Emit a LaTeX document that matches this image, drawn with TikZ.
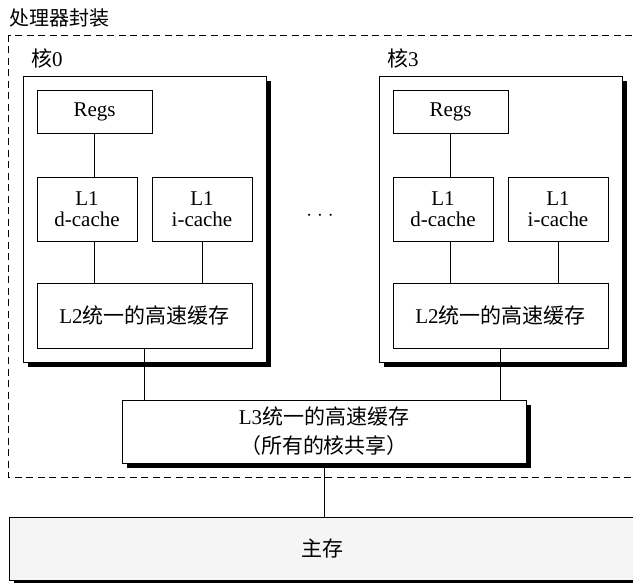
\documentclass[tikz,border=0pt]{standalone}
\usepackage{fontspec}
\setmainfont{Liberation Serif}
\newfontfamily\cjk{Noto Sans CJK SC}
\newcommand\hzbig{\fontsize{21}{29}\selectfont\cjk}
\usetikzlibrary{shadows}

\begin{document}
\begin{tikzpicture}[
			x=1pt, y=-1pt,
			font=\fontsize{21}{21}\selectfont,
			box/.style={draw, line width=0.9pt, fill=white, inner sep=0pt, align=center},
			shadowbox/.style={box, drop shadow={shadow xshift=5pt, shadow yshift=-5pt, fill=black, opacity=1}},
			link/.style={line width=0.9pt},
			pkg/.style={line width=0.9pt, dash pattern=on 7pt off 4.5pt}
		]

		\useasboundingbox (0,0) rectangle (633,583);
		\clip (0,0) rectangle (633,583);

		% processor package
		\node[anchor=west, inner sep=0pt, font=\fontsize{20}{22}\selectfont\cjk] (pkgtitle) at (9,18) {处理器封装};
		\draw[pkg] (8,35) rectangle (660,477);

		% cores 0 and 3
		\foreach \k/\dx in {0/0,3/356} {
				\node[shadowbox, minimum width=243pt, minimum height=286pt] (core\k) at ({144.5+\dx},219) {};
				\node[anchor=west, inner sep=0pt] (lbl\k) at ({31+\dx},58) {{\cjk 核}\k};
				\node[box, minimum width=115pt, minimum height=43pt] (regs\k) at ({94.5+\dx},111.5) {Regs};
				\node[box, minimum width=100pt, minimum height=64pt] (dc\k) at ({87+\dx},209) {L1\\d-cache};
				\node[box, minimum width=100pt, minimum height=64pt] (ic\k) at ({202+\dx},209) {L1\\i-cache};
				\node[box, minimum width=215pt, minimum height=65pt] (ltwo\k) at ({144.5+\dx},315.5) {L2{\hzbig 统一的高速缓存}};
				\draw[link] (regs\k) -- (regs\k.south |- dc\k.north);
				\draw[link] (regs\k.south |- dc\k.south) -- (regs\k.south |- ltwo\k.north);
				\draw[link] (ic\k) -- (ic\k |- ltwo\k.north);
			}

		\node (dots) at (320,216) {$\cdot$\hspace{5pt}$\cdot$\hspace{5pt}$\cdot$};

		% shared L3
		\node[shadowbox, minimum width=404pt, minimum height=63pt] (lthree) at (324,431.5)
		{L3{\hzbig 统一的高速缓存}\\[8pt]{\hzbig （所有的核共享）}};
		\foreach \k in {0,3} {
				\draw[link] (ltwo\k) -- (ltwo\k |- lthree.north);
			}

		% main memory
		\node[shadowbox, fill=black!4, minimum width=626pt, minimum height=63pt] (mem) at (322,548.5) {\hzbig 主存};
		\draw[link] (lthree) -- (lthree.south |- mem.north);
	\end{tikzpicture}
\end{document}
